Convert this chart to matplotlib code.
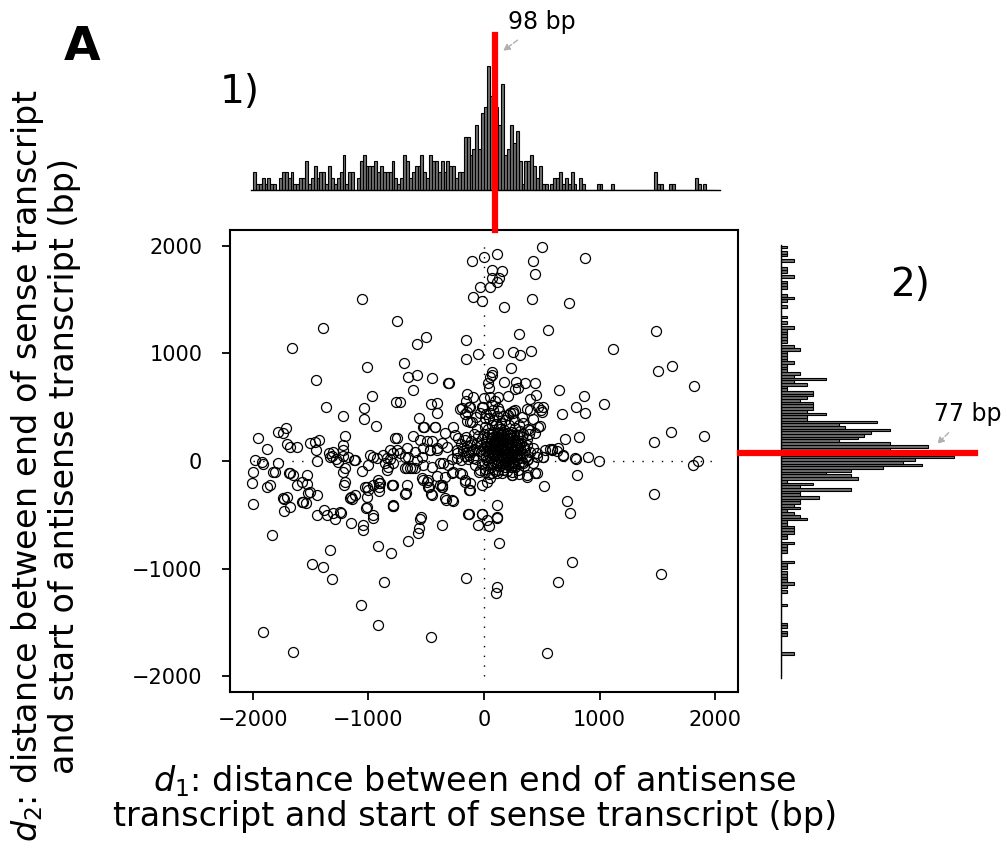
import numpy as np
import matplotlib
matplotlib.use("Agg")
import matplotlib.pyplot as plt

plt.rcParams['font.family'] = ['DejaVu Sans']

# histogram counts, 25 bp bins from -2000 to 2000
d1_counts = [3, 1, 1, 2, 1, 2, 1, 1, 0, 2,
             3, 3, 2, 3, 1, 1, 2, 2, 5, 1,
             2, 4, 2, 3, 3, 1, 4, 2, 1, 2,
             3, 6, 1, 3, 3, 0, 2, 5, 6, 4,
             4, 4, 5, 3, 4, 3, 3, 3, 5, 2,
             1, 2, 6, 5, 2, 3, 4, 4, 6, 3,
             2, 6, 5, 5, 3, 5, 3, 5, 4, 4,
             2, 3, 3, 9, 9, 6, 7, 11, 7, 13,
             14, 21, 16, 12, 14, 11, 18, 6, 7, 11,
             8, 10, 5, 1, 5, 5, 6, 4, 2, 4,
             1, 1, 0, 1, 2, 2, 3, 1, 2, 1,
             3, 1, 0, 2, 1, 0, 0, 0, 0, 1,
             1, 0, 0, 0, 1, 0, 0, 0, 0, 0,
             0, 0, 0, 0, 0, 0, 0, 0, 0, 3,
             1, 1, 0, 0, 1, 1, 0, 0, 0, 0,
             0, 0, 0, 2, 1, 0, 1, 0, 0, 0]
d2_counts = [0, 0, 0, 0, 0, 0, 0, 0, 2, 0,
             0, 0, 0, 0, 0, 1, 1, 0, 1, 1,
             0, 0, 0, 0, 0, 0, 1, 0, 0, 0,
             0, 1, 0, 1, 2, 1, 1, 1, 1, 0,
             1, 1, 2, 0, 0, 0, 1, 1, 1, 2,
             0, 1, 1, 2, 2, 2, 1, 1, 4, 3,
             2, 1, 3, 2, 3, 3, 6, 3, 3, 11,
             3, 5, 1, 12, 11, 7, 11, 16, 22, 19,
             21, 27, 25, 20, 17, 23, 17, 9, 12, 13,
             14, 17, 10, 9, 15, 4, 4, 7, 4, 5,
             5, 5, 3, 4, 5, 5, 1, 1, 4, 2,
             7, 2, 3, 1, 1, 1, 2, 1, 1, 1,
             1, 3, 2, 0, 1, 1, 1, 1, 1, 2,
             0, 1, 0, 1, 0, 0, 0, 1, 0, 1,
             2, 1, 0, 0, 1, 1, 1, 0, 2, 0,
             1, 1, 0, 0, 2, 0, 1, 1, 0, 1]
d1_mode = 98
d2_mode = 77

# scatter points (d1, d2) in bp
outer_pts = [(499, 1984), (0, 1891), (-101, 1857), (116, 1922), (427, 1860), (875, 1882),
             (72, 1774), (159, 1767), (72, 1702), (110, 1665), (127, 1696), (-37, 1619),
             (52, 1613), (445, 1740), (-92, 1520), (-17, 1486), (-1053, 1507), (173, 1427),
             (413, 1507), (736, 1470), (-756, 1300), (-1397, 1238), (-1665, 1046), (557, 1213),
             (306, 1179), (-502, 1155), (-583, 1083), (-159, 1127), (-55, 997), (-159, 950),
             (118, 1006), (248, 1015), (312, 981), (410, 1022), (1120, 1037), (1487, 1204),
             (1509, 839), (1631, 879), (1818, 697), (-1013, 876), (-695, 910), (-1452, 749),
             (-661, 780), (-580, 796), (-453, 768), (-615, 663), (-309, 721), (-305, 727),
             (234, 864), (66, 823), (72, 799), (38, 727), (173, 731), (274, 737), (268, 672),
             (355, 727), (445, 721), (650, 656), (863, 607), (1039, 533), (797, 505), (877, 449),
             (678, 437)]
upper_pts = [(52, 783), (297, 675), (40, 675), (-150, 619), (-92, 597), (0, 588), (52, 597),
             (120, 592), (211, 604), (450, 610), (-156, 557), (-133, 505), (-208, 486), (-164, 437),
             (-144, 372), (-72, 412), (-6, 505), (370, 483), (398, 576), (494, 474), (514, 505),
             (485, 325), (254, 464), (225, 443), (-194, 489), (-121, 505), (-144, 458), (-121, 365),
             (-20, 505), (-35, 443), (8, 396), (52, 443), (81, 474), (124, 489), (268, 474),
             (398, 474), (470, 505), (499, 458), (211, 427), (254, 449), (326, 412), (427, 387),
             (470, 319), (398, 288), (441, 257), (-970, 601), (-1368, 502), (-1039, 492),
             (-1039, 390), (-1224, 418), (-932, 328), (-765, 545), (-727, 545), (-456, 526),
             (-410, 536), (-404, 443), (-566, 402), (-522, 313), (-427, 319)]
left_pts = [(-1954, 210), (-1882, 108), (-1780, 272), (-1737, 257), (-1714, 303), (-1708, 154),
            (-1679, 133), (-1622, 133), (-1506, 164), (-1463, 179), (-1426, 195), (-1454, 102),
            (-1203, 232), (-1218, 148), (-1224, 102), (-1333, 40), (-1310, 86), (-1281, 15),
            (-1218, 46), (-1174, 40), (-1117, 9), (-987, 55), (-958, 40), (-929, 24), (-871, 55),
            (-843, 24), (-785, 71), (-756, 210), (-1983, 9), (-1925, -7), (-1997, -99),
            (-1910, -31), (-1824, -99), (-1449, 0), (-1535, -130), (-1680, -115), (-1651, -130),
            (-1578, -192), (-1506, -285), (-1737, -347), (-1708, -331), (-1882, -239),
            (-1853, -223), (-1578, -378), (-1449, -316), (-1622, -223), (-1362, -502),
            (-1304, -486), (-1247, -471), (-1160, -347), (-1117, -316), (-1030, -239),
            (-1001, -270), (-915, -177), (-900, -208), (-958, -223), (-1203, -192), (-1218, -99),
            (-1059, -90), (-1016, -332), (-1045, -595), (-799, -223), (-785, -409), (-958, -502),
            (-1016, -424), (-1835, -687), (-1997, -402), (-2006, -207), (-1809, -105),
            (-1786, -15), (-1729, -356), (-1729, -461), (-1680, -424), (-1685, -114),
            (-1529, -214), (-1521, -300), (-1570, -381), (-1541, -393), (-1443, -501),
            (-1385, -455), (-1290, -535), (-1238, -480), (-1151, -573), (-1045, -641),
            (-1209, -226), (-1154, -331), (-1140, -356), (-1010, -238), (-1022, -436),
            (-958, -529), (-906, -201), (-906, -238), (-906, -275), (-794, -223), (-791, -415),
            (-670, -223), (-678, -300), (-525, -176), (-496, -192), (-479, -238), (-459, -306),
            (-381, -223), (-366, -238), (-329, -362), (-271, -368), (-164, -192), (-127, -269),
            (-265, -105), (-187, -124), (-1339, 71), (-1316, 46), (-1261, -6), (-1125, 9),
            (-1203, -68), (-1001, -37), (-857, -22), (-828, -53), (-843, -84), (-684, 40),
            (-669, -68), (-626, -68), (-583, 9), (-540, 40), (-467, 102), (-410, 102),
            (-352, -22), (-309, -37), (-237, 71), (-179, 118), (-92, 25), (-35, -84), (9, -99),
            (66, -114), (110, -114), (167, -84), (254, -22), (341, -22), (456, 77), (514, 40),
            (572, 108), (687, 56), (788, 25)]
lower_pts = [(1812, -37), (1850, 0), (1475, -310), (996, 0), (898, 34), (803, -130), (716, -374),
             (745, -486), (759, -941), (638, -1127), (1530, -1049), (548, -1786), (522, -232),
             (133, -758), (110, -409), (110, -526), (-14, -495), (29, -548), (41, -604),
             (-52, -597), (-133, -495), (-159, -1089), (110, -1167), (101, -1223), (-462, -1634),
             (-915, -1523), (-1068, -1337), (-866, -1127), (-1313, -1099), (-1492, -959),
             (-1394, -981), (-1330, -823), (-915, -789), (-802, -854), (-655, -743), (-571, -672),
             (-566, -625), (-551, -539), (-363, -597), (-1916, -1585), (-1656, -1777), (23, -192),
             (240, -130), (370, -130), (442, -114), (-20, -492), (115, -517), (-136, -492),
             (-549, -517), (-785, -418), (702, 204), (822, 223), (1475, 177), (1619, 266),
             (1908, 229), (585, 108), (629, 96), (686, 46), (796, 18)]
ring_pts = [(-525, 319), (-424, 319), (-338, 263), (-266, 313), (-251, 241), (-222, 211),
            (-165, 195), (-771, 211), (-612, 235), (-554, 195), (-497, 189), (-453, 189),
            (-367, 170), (-814, 102), (-756, 102), (-727, 71), (-670, 118), (-598, 87),
            (-525, 118), (-468, 102), (-410, 118), (-323, 133), (-237, 102), (-136, 87),
            (-655, 34), (-684, -68), (-641, -68), (-598, -68), (-525, -37), (-453, -53),
            (-381, -22), (-280, 16), (-237, 25), (-165, 46), (-785, -22), (-814, 16),
            (-540, -161), (-482, -176), (-410, -139), (-338, -152), (-280, -114), (-208, -114),
            (-165, -176), (-121, -207), (-785, -223), (-684, -306), (-482, -238), (-453, -316),
            (-367, -223), (-367, -244), (-338, -347), (-280, -362), (-121, -269), (-20, -223),
            (52, -161), (456, -114), (369, -145), (239, -130), (297, -84), (427, 118), (528, 102),
            (586, 102), (643, 118), (514, 34), (456, 34), (427, -22), (369, 9)]
core_pts = [(0, 250), (20, 180), (35, 300), (45, 120), (60, 210), (70, 40), (80, 270), (90, 150),
            (100, 90), (110, 230), (120, 10), (130, 180), (140, 300), (150, 60), (160, 140),
            (170, 220), (180, -20), (190, 100), (200, 260), (210, 170), (220, 30), (230, 120),
            (240, 210), (250, -40), (260, 80), (270, 310), (280, 150), (290, 20), (300, 240),
            (310, 110), (-10, 60), (-30, 150), (-50, 230), (-70, 20), (-90, 110), (-110, 190),
            (-130, 60), (-150, 140), (-20, -30), (5, 130), (15, 40), (25, 220), (40, -10),
            (50, 170), (55, 80), (65, 330), (75, 130), (85, 0), (95, 200), (105, 160), (115, 60),
            (125, 260), (135, 110), (145, -10), (155, 190), (165, 40), (175, 290), (185, 150),
            (195, 60), (205, -30), (215, 210), (225, 80), (235, 270), (245, 140), (255, 0),
            (265, 190), (275, 50), (285, 240), (295, 120), (305, -20), (320, 170), (330, 60),
            (340, 250), (355, 100), (370, 200), (385, 20), (20, 90), (30, 10), (45, 260),
            (60, 150), (80, 60), (95, 110), (110, -40), (125, 200), (140, 140), (150, 250),
            (165, 100), (180, 200), (190, 30), (200, 120), (215, 80), (230, 180), (245, 60),
            (260, 240), (275, 130), (290, 180), (300, 60), (310, 280), (150, 350), (100, 340),
            (60, -60), (120, -80), (200, -90), (-40, -100), (-60, 300), (-100, 360), (350, -50),
            (380, 300), (80, 220), (130, 320), (170, 30), (230, -60), (40, 60), (10, 320),
            (-80, -40), (340, 350)]
core_pts_2 = [(30, 140), (50, 30), (65, 250), (85, 180), (105, 20), (120, 130), (135, 240),
              (150, 110), (165, 270), (180, 80), (195, 180), (210, 50), (225, 240), (240, 100),
              (255, 190), (270, 20), (285, 100), (300, 170), (315, 30), (330, 220), (345, 130),
              (360, 40), (375, 150), (390, 250), (400, 80), (-20, 200), (-45, 90), (-60, 170),
              (-85, 250), (-110, 80), (-125, 150), (-140, 20), (-160, 220), (-180, 90), (-200, 10),
              (-200, 160), (10, -70), (40, -120), (75, -30), (95, -90), (140, -50), (160, -110),
              (185, -60), (215, -10), (240, -100), (270, -60), (300, -120), (325, -10), (75, 380),
              (110, 420), (40, 400), (180, 380), (220, 330), (260, 380), (300, 330), (15, 440),
              (130, 460), (70, 520), (95, 560), (165, 420), (205, 5), (55, 115), (115, 175),
              (175, 125), (235, 45), (-15, 110), (285, 55), (145, 215), (90, 75), (200, 215)]

all_pts = np.array(outer_pts + upper_pts + left_pts + lower_pts + ring_pts
                   + core_pts + core_pts_2)
d1 = all_pts[:, 0]
d2 = all_pts[:, 1]

edges = np.arange(-2000, 2001, 25)
centers = edges[:-1] + 12.5

fig = plt.figure(figsize=(10.07, 8.51), dpi=100)
W, H = 1007, 851

ax = fig.add_axes([230 / W, 1 - 692 / H, 508 / W, 462 / H])
ax_top = fig.add_axes([230 / W, 1 - 190 / H, 508 / W, 155 / H], sharex=ax)
ax_right = fig.add_axes([781 / W, 1 - 692 / H, 220 / W, 462 / H], sharey=ax)

# scatter
ax.vlines(0, -2000, 2000, colors='black', linestyles=(0, (1, 6)), lw=1.0)
ax.hlines(0, -2000, 2000, colors='black', linestyles=(0, (1, 6)), lw=1.0)
ax.plot(d1, d2, 'o', mfc='none', mec='black', ms=7.2, mew=0.9)
ax.set_xlim(-2199, 2199)
ax.set_ylim(-2145, 2145)
ax.set_xticks([-2000, -1000, 0, 1000, 2000])
ax.set_yticks([-2000, -1000, 0, 1000, 2000])
ax.set_xticklabels(['\u22122000', '\u22121000', '0', '1000', '2000'])
ax.set_yticklabels(['\u22122000', '\u22121000', '0', '1000', '2000'])
for s in ax.spines.values():
    s.set_linewidth(1.5)
ax.tick_params(direction='out', length=6, width=1.3, labelsize=15)
ax.tick_params(axis='x', pad=7)
ax.tick_params(axis='y', pad=14)

# top histogram of d1
ax_top.bar(centers, d1_counts, width=25, color='#707070', edgecolor='black', lw=0.8)
ax_top.set_ylim(0, 26.3)
for side in ['top', 'right', 'left']:
    ax_top.spines[side].set_visible(False)
ax_top.spines['bottom'].set_bounds(-2020, 2040)
ax_top.spines['bottom'].set_linewidth(1.0)
ax_top.tick_params(left=False, bottom=False, labelleft=False, labelbottom=False)
ax_top.patch.set_alpha(0)
ax_top.axvline(d1_mode, ymin=-0.258, ymax=1.0, color='red', lw=4.5, clip_on=False, zorder=5)
ax_top.annotate(f'{d1_mode} bp', xy=(165, 23.6), xytext=(500, 28.5), ha='center', va='center',
                fontsize=17, annotation_clip=False,
                arrowprops=dict(arrowstyle='-|>', linestyle='--', color='#b0b0b0', lw=1,
                                shrinkA=4, shrinkB=0, mutation_scale=10))

# right histogram of d2
ax_right.barh(centers, d2_counts, height=25, color='#707070', edgecolor='black', lw=0.8)
ax_right.set_xlim(0, 34.4)
for side in ['top', 'right', 'bottom']:
    ax_right.spines[side].set_visible(False)
ax_right.spines['left'].set_bounds(-2015, 2005)
ax_right.spines['left'].set_linewidth(1.0)
ax_right.tick_params(left=False, bottom=False, labelleft=False, labelbottom=False)
ax_right.patch.set_alpha(0)
ax_right.axhline(d2_mode, xmin=-0.186, xmax=0.882, color='red', lw=4.5, clip_on=False, zorder=5)
ax_right.annotate(f'{d2_mode} bp', xy=(24.4, 158), xytext=(29.2, 436), ha='center', va='center',
                  fontsize=17, annotation_clip=False,
                  arrowprops=dict(arrowstyle='-|>', linestyle='--', color='#b0b0b0', lw=1,
                                  shrinkA=4, shrinkB=0, mutation_scale=10))

# labels
fig.text(475 / W, 1 - 798 / H,
         '$d_1$: distance between end of antisense\ntranscript and start of sense transcript (bp)',
         ha='center', va='center', fontsize=24, multialignment='center', linespacing=1.05)
fig.text(45 / W, 1 - 466 / H,
         '$d_2$: distance between end of sense transcript\nand start of antisense transcript (bp)',
         ha='center', va='center', rotation=90, fontsize=24, multialignment='center',
         linespacing=1.05)
fig.text(82 / W, 1 - 48 / H, 'A', ha='center', va='center', fontsize=34, fontweight='bold')
fig.text(240 / W, 1 - 92 / H, '1)', ha='center', va='center', fontsize=28)
fig.text(910 / W, 1 - 285 / H, '2)', ha='center', va='center', fontsize=28)

fig.savefig('out.png', dpi=100)
